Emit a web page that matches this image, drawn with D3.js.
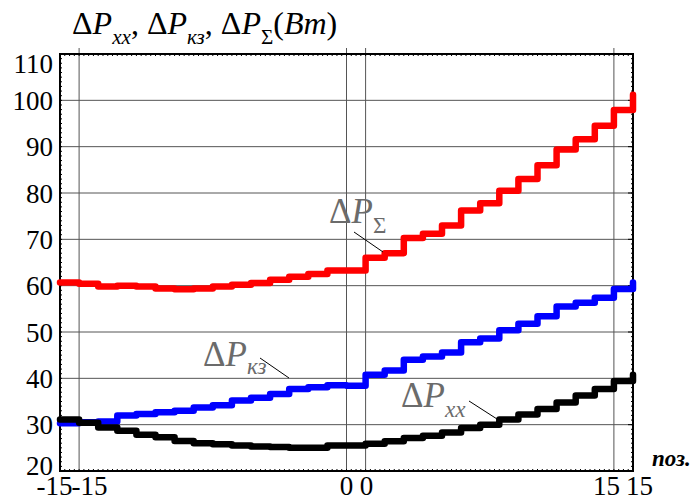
<!DOCTYPE html>
<html><head><meta charset="utf-8">
<script src="https://cdn.jsdelivr.net/npm/d3@7"></script>
<style>body{margin:0;background:#fff}svg{display:block}</style>
</head><body>
<svg id="c" width="696" height="500"></svg>
<script>
const positions = d3.range(-15, 16);
const pSum = [60.7,60.4,59.8,60.0,59.8,59.4,59.2,59.4,59.8,60.2,60.6,61.3,61.9,62.5,63.3,63.3,66.0,67.0,70.3,71.2,73.0,76.2,77.8,80.5,83.0,86.0,89.4,91.6,94.5,97.9,101.2];
const pKz  = [30.3,30.5,30.7,32.0,32.3,32.7,33.0,33.7,34.2,35.2,35.8,36.6,37.7,38.1,38.5,38.4,40.8,41.7,44.0,44.7,45.6,47.8,48.6,50.4,51.8,53.4,55.5,56.3,57.4,59.3,60.7];
const pXx  = [31.1,30.4,29.4,28.7,27.8,27.3,26.5,26.0,25.8,25.5,25.3,25.2,25.0,25.0,25.5,25.5,25.9,26.4,27.1,27.6,28.3,29.3,30.0,31.1,32.2,33.4,34.8,36.3,37.7,39.4,40.8];
const yTicks = [20,30,40,50,60,70,80,90,100,110];
const xGrid = [-14, 0, 1, 14];
const xLabels = [{v:-15,t:"-15",dx:-5.5},{v:-14,t:"-15",dx:10.5},{v:0,t:"0",dx:0},{v:1,t:"0",dx:1},{v:14,t:"15",dx:-7.5},{v:15,t:"15",dx:6.5}];

const FF = '"Liberation Serif"';
const svg = d3.select("#c");
const L=60, R=633, T=54, B=471;
const x = d3.scaleLinear().domain([-15,15]).range([L,R]);
const y = d3.scaleLinear().domain([20,110]).range([B,T]);

// grid
svg.append("g").selectAll("line").data(yTicks.filter(v=>v>20&&v<110)).join("line")
  .attr("x1",L).attr("x2",R).attr("y1",d=>y(d)).attr("y2",d=>y(d))
  .attr("stroke","#555").attr("stroke-width",1);
svg.append("g").selectAll("line").data(xGrid).join("line")
  .attr("y1",T-6).attr("y2",B).attr("x1",d=>x(d)).attr("x2",d=>x(d))
  .attr("stroke","#555").attr("stroke-width",1);

// frame
svg.append("rect").attr("x",L).attr("y",T).attr("width",R-L).attr("height",B-T)
  .attr("fill","none").attr("stroke","#000").attr("stroke-width",2);
const minorY = d3.range(20,110.01,1);
svg.append("g").selectAll("line").data(minorY).join("line")
  .attr("x1",L).attr("x2",L+2).attr("y1",d=>y(d)).attr("y2",d=>y(d)).attr("stroke","#000");
svg.append("g").selectAll("line").data(minorY).join("line")
  .attr("x1",R-2).attr("x2",R).attr("y1",d=>y(d)).attr("y2",d=>y(d)).attr("stroke","#000");
svg.append("g").selectAll("line").data(yTicks).join("line")
  .attr("x1",R-5).attr("x2",R).attr("y1",d=>y(d)).attr("y2",d=>y(d)).attr("stroke","#000");
const minorX = d3.range(-15,15.01,0.25);
svg.append("g").selectAll("line").data(minorX).join("line")
  .attr("x1",d=>x(d)).attr("x2",d=>x(d)).attr("y1",T).attr("y2",T+2).attr("stroke","#000");
svg.append("g").selectAll("line").data(minorX).join("line")
  .attr("x1",d=>x(d)).attr("x2",d=>x(d)).attr("y1",B-2).attr("y2",B).attr("stroke","#000");

// y labels (Mathcad keeps the end labels inside the frame)
svg.append("g").selectAll("text").data(yTicks).join("text")
  .attr("x",L-7).attr("y",d=>y(d)+(d===110?19:d===20?4:9.5)).attr("text-anchor","end")
  .style("font-family",FF).style("font-size","27px").text(d=>d);
// x labels
svg.append("g").selectAll("text").data(xLabels).join("text")
  .attr("x",d=>x(d.v)+d.dx).attr("y",495).attr("text-anchor","middle")
  .style("font-family",FF).style("font-size","27px").text(d=>d.t);
svg.append("text").attr("x",652).attr("y",466)
  .style("font-family",FF).style("font-size","23px").style("font-weight","bold").style("font-style","italic").text("поз.");

// series
const line = d3.line().curve(d3.curveStepAfter).x((d,i)=>x(positions[i])).y(d=>y(d));
[[pSum,"#ff0000"],[pKz,"#0000ff"],[pXx,"#000000"]].forEach(([vals,col])=>{
  svg.append("path").datum(vals).attr("d",line).attr("fill","none")
    .attr("stroke",col).attr("stroke-width",6.5).attr("stroke-linejoin","round").attr("stroke-linecap","round");
});

// labels with subscripts
function lab(sel, sub, subItalic, dy){
  sel.append("tspan").text("Δ");
  sel.append("tspan").style("font-style","italic").text("P");
  sel.append("tspan").style("font-size","0.66em").attr("dy",dy).style("font-style",subItalic?"italic":"normal").text(sub);
}
const t = svg.append("text").attr("x",72).attr("y",34).style("font-family",FF).style("font-size","32px").attr("fill","#000");
lab(t,"xx",true,10); t.append("tspan").attr("dy",-10).text(", ");
lab(t,"кз",true,10); t.append("tspan").attr("dy",-10).text(", ");
lab(t,"Σ",false,10); t.append("tspan").attr("dy",-10).text("(");
t.append("tspan").style("font-style","italic").text("Bm"); t.append("tspan").text(")");

// curve annotations
const notes = [
  {sub:"Σ", it:false, tx:329, ty:223, dy:10, lx1:354, ly1:232, lx2:383, ly2:252},
  {sub:"кз", it:true, tx:203, ty:366, dy:8, lx1:260, ly1:358, lx2:289, ly2:378},
  {sub:"xx", it:true, tx:401, ty:407, dy:10, lx1:469, ly1:401, lx2:497, ly2:419}
];
notes.forEach(n=>{
  const tt = svg.append("text").attr("x",n.tx).attr("y",n.ty).style("font-family",FF).style("font-size","35px").attr("fill","#6b6b6b");
  lab(tt,n.sub,n.it,n.dy);
  svg.append("line").attr("x1",n.lx1).attr("y1",n.ly1).attr("x2",n.lx2).attr("y2",n.ly2).attr("stroke","#000").attr("stroke-width",1);
});
</script>
</body></html>
